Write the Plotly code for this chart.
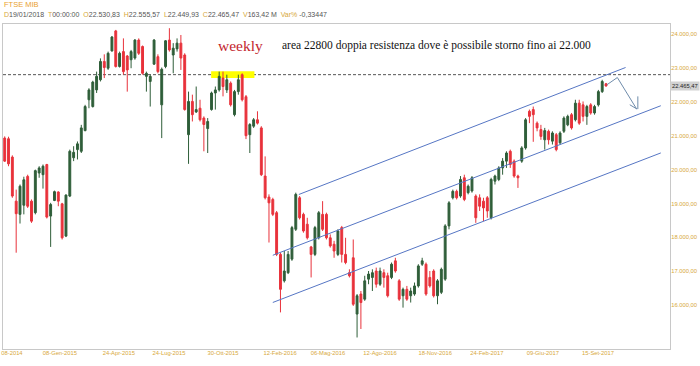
import plotly.graph_objects as go

# ---------------- data (weekly candles) ----------------
opens = [20930, 20910, 20370, 19070, 18680, 18950, 19800, 19070, 18730, 19900,
         19850, 20150, 18630, 19090, 19340, 18990, 18040, 19220, 20350, 20590,
         20540, 21150, 22060, 21860, 22350, 22650, 23190, 22990, 23500, 24090,
         23040, 23480, 23350, 23240, 23290, 23820, 23630, 22750, 22600, 23110,
         23330, 21910, 23040, 23820, 23380, 23560, 23730, 23380, 21030, 22010,
         21700, 21810, 21520, 21210, 21770, 22260, 22350, 22700, 22350, 22550,
         21620, 22300, 22800, 22150, 21030, 21280, 21470, 21230, 19810, 19190,
         19120, 18730, 17500, 16720, 16960, 17360, 18240, 19170, 18680, 18390,
         17720, 17500, 17990, 18680, 18680, 17990, 17800, 17500, 18290, 17500,
         16960, 17400, 15740, 16330, 16180, 16770, 16820, 17010, 16620, 16960,
         16870, 16820, 17310, 16720, 16280, 16470, 16280, 16330, 16570, 17210,
         17210, 16820, 17010, 16280, 16380, 16770, 18340, 19170, 19360, 19220,
         19760, 19320, 19370, 19220, 19170, 19070, 19170, 18580, 19660, 19710,
         20050, 20250, 20540, 20250, 19810, 20250, 20640, 21720, 21770, 21370,
         21180, 20880, 21130, 20840, 21030, 20790, 21130, 21320, 21620, 21470,
         21960, 21910, 21570, 21910, 21670, 21910, 22300, 22530.83]
highs = [20980, 20970, 20420, 19410, 19560, 19790, 19850, 19120, 20000, 20100,
         20150, 20170, 19020, 19380, 19360, 19020, 19270, 20590, 20690, 20830,
         21320, 21910, 22400, 22620, 22890, 23280, 23400, 23480, 23940, 24120,
         23480, 23870, 23380, 23530, 23850, 23870, 23660, 22890, 22800, 23850,
         23400, 23010, 23820, 24170, 23730, 23870, 23970, 23430, 22300, 22210,
         22450, 22060, 21570, 21520, 22300, 22450, 22890, 22890, 22800, 22600,
         22350, 22800, 22840, 22200, 21370, 21520, 21720, 21280, 20390, 19270,
         19170, 18780, 17550, 17600, 17600, 18340, 19320, 19220, 18730, 18580,
         17750, 18340, 18780, 19070, 18730, 18090, 17900, 18240, 18340, 17990,
         17060, 17940, 16330, 16420, 16870, 17010, 17060, 17110, 17110, 17060,
         16960, 17260, 17400, 16770, 16520, 16570, 16520, 16670, 17210, 17400,
         17260, 17010, 17060, 16770, 17110, 18390, 19070, 19410, 19410, 19810,
         19850, 19560, 19810, 19270, 19270, 19170, 19220, 19760, 19850, 20100,
         20340, 20540, 20590, 20300, 19850, 20690, 21520, 21770, 21860, 21420,
         21320, 21230, 21180, 21130, 21080, 21130, 21570, 21620, 21670, 22060,
         22060, 22010, 21910, 21960, 21910, 22350, 22650, 22555.57]
lows = [20230, 20100, 19170, 17550, 18410, 18680, 18870, 18430, 18680, 19760,
        19440, 18560, 17720, 19070, 18920, 17940, 18010, 19190, 20250, 20300,
        20490, 21130, 21810, 21830, 22260, 22600, 22700, 22940, 23480, 23010,
        23010, 22800, 22300, 22990, 23240, 23380, 22800, 22300, 21860, 23090,
        22840, 20930, 22990, 23480, 22840, 23480, 22940, 21740, 20170, 21420,
        21670, 21420, 20540, 20490, 21740, 21770, 22300, 22160, 22260, 21860,
        21570, 22210, 22010, 20900, 20490, 21230, 21330, 19810, 19120, 17850,
        18630, 17450, 15790, 16670, 16920, 17310, 18190, 18530, 18140, 17940,
        16820, 17450, 17940, 18190, 17940, 17700, 17400, 17450, 17260, 17210,
        16820, 15980, 15050, 15300, 16130, 16620, 16420, 16520, 16570, 16520,
        16230, 16770, 16960, 16130, 15930, 16130, 16080, 16280, 16520, 17160,
        16280, 16520, 16230, 16030, 16330, 16720, 18240, 19120, 19120, 19170,
        19070, 19270, 19320, 18430, 18780, 18480, 18580, 18530, 19560, 19660,
        19850, 20050, 20050, 19760, 19460, 20200, 20590, 21370, 20820, 21130,
        20880, 20590, 20740, 20740, 20540, 20740, 21080, 21280, 21180, 21420,
        21320, 21420, 21320, 21620, 21620, 21860, 22260, 22449.93]
closes = [20250, 20170, 19220, 18700, 19510, 19700, 18920, 18480, 19970, 20050,
          20100, 18600, 18970, 19350, 19070, 17990, 19250, 20540, 20510, 20760,
          21230, 21860, 22350, 22580, 22750, 23190, 23010, 23430, 23910, 23040,
          23430, 22890, 22940, 23480, 23820, 23430, 22840, 22840, 22750, 23820,
          22890, 22960, 23800, 23530, 23580, 23730, 23290, 21770, 22010, 21620,
          21770, 21470, 21330, 21420, 22260, 22350, 22750, 22450, 22650, 21910,
          22300, 22650, 22060, 21000, 21330, 21470, 21370, 19850, 19170, 19020,
          18680, 17500, 16470, 17010, 17500, 18290, 19270, 18580, 18190, 17990,
          17500, 18290, 18730, 18240, 17990, 17750, 17600, 18190, 17500, 17260,
          16870, 16030, 16280, 16080, 16720, 16920, 16960, 16620, 17010, 16820,
          16280, 17210, 17010, 16180, 16470, 16180, 16420, 16570, 17160, 17310,
          16330, 16570, 16280, 16720, 17060, 18340, 19020, 19360, 19170, 19710,
          19120, 19510, 19760, 18580, 18920, 18870, 18780, 19710, 19810, 20050,
          20250, 20490, 20150, 19810, 19760, 20640, 21470, 21570, 21620, 21230,
          20980, 21150, 20880, 21080, 20590, 21080, 21520, 21570, 21230, 21960,
          21370, 21570, 21860, 21670, 21860, 22300, 22600, 22465.47]

week_index = list(range(len(opens)))

date_labels = ["08-2014", "08-Gen-2015", "24-Apr-2015", "24-Lug-2015", "30-Ott-2015",
               "12-Feb-2016", "06-Mag-2016", "12-Ago-2016", "18-Nov-2016",
               "24-Feb-2017", "09-Giu-2017", "15-Set-2017"]
price_ticks = [16000, 17000, 18000, 19000, 20000, 21000, 22000, 23000, 24000]
price_labels = ["16.000,00", "17.000,00", "18.000,00", "19.000,00", "20.000,00",
                "21.000,00", "22.000,00", "23.000,00", "24.000,00"]
resistance_level = 22800
last_close_label = "22.465,47"

# ---------------- layout helpers ----------------
date_tick_pos = [1.9, 14.4, 29.8, 42.9, 57.0, 71.9, 84.4, 98.0, 112.4, 125.9, 140.5, 154.9]
W, H = 700, 366
ML, MR, MT, MB = 3, 30, 24, 17
PW, PH = W - ML - MR, H - MT - MB


def paper_x(px):
    return (px - ML) / PW


def paper_y(py):
    return (H - MB - py) / PH


GREEN = "#2f5e39"
RED = "#e8323b"
GOLD = "#d7a83a"
BLUE = "#5676c4"
ARROW = "#6f8cab"
AXIS_FONT = "Liberation Sans, Arial, sans-serif"
SERIF = "Liberation Serif, Times New Roman, serif"

fig = go.Figure(go.Candlestick(
    x=week_index, open=opens, high=highs, low=lows, close=closes,
    increasing=dict(line=dict(color=GREEN, width=1), fillcolor=GREEN),
    decreasing=dict(line=dict(color=RED, width=1), fillcolor=RED),
    whiskerwidth=0, showlegend=False, hoverinfo="skip",
))

shapes = [
    # yellow highlight of the double top
    dict(type="rect", xref="x", yref="y", x0=53.9, x1=65.2, y0=22700, y1=22900,
         fillcolor="#ffff00", line=dict(width=0), layer="below"),
    # dashed resistance line
    dict(type="line", xref="paper", yref="y", x0=0, x1=1,
         y0=resistance_level, y1=resistance_level,
         line=dict(color="#555555", width=1, dash="3px,2px"), layer="below"),
    # channel lines
    dict(type="line", xref="x", yref="y", x0=76.8, y0=19267, x1=162.1, y1=23011,
         line=dict(color=BLUE, width=1)),
    dict(type="line", xref="x", yref="y", x0=70.0, y0=17474, x1=171.3, y1=21884,
         line=dict(color=BLUE, width=1)),
    dict(type="line", xref="x", yref="y", x0=70.0, y0=16082, x1=171.3, y1=20492,
         line=dict(color=BLUE, width=1)),
    # hand-drawn arrow
    dict(type="line", xref="x", yref="y", x0=157.2, y0=22500, x1=159.95, y1=22715,
         line=dict(color=ARROW, width=1)),
    dict(type="line", xref="x", yref="y", x0=159.95, y0=22715, x1=165.0, y1=21786,
         line=dict(color=ARROW, width=1)),
    dict(type="line", xref="x", yref="y", x0=165.3, y0=22160, x1=165.3, y1=21786,
         line=dict(color=ARROW, width=1)),
    dict(type="line", xref="x", yref="y", x0=163.2, y0=21913, x1=165.1, y1=21786,
         line=dict(color=ARROW, width=1)),
]

lab = lambda s: f"<span style='color:{GOLD}'>{s}</span>"
val = lambda s: f"<span style='color:#555555'>{s}</span>"
header2 = (lab("D") + val("19/01/2018") + "  " + lab("T") + val("00:00:00") + "  " +
           lab("O") + val("22.530,83") + "  " + lab("H") + val("22.555,57") + "  " +
           lab("L") + val("22.449,93") + "  " + lab("C") + val("22.465,47") + "  " +
           lab("V") + val("163,42 M") + "  " + lab("Var%") + " " + val("-0,33447"))

annotations = [
    dict(xref="paper", yref="paper", x=paper_x(2), y=paper_y(5), xanchor="left",
         yanchor="middle", text="FTSE MIB", showarrow=False,
         font=dict(family=AXIS_FONT, size=7.5, color="#eaa22e")),
    dict(xref="paper", yref="paper", x=paper_x(2), y=paper_y(14), xanchor="left",
         yanchor="middle", text=header2, showarrow=False,
         font=dict(family=AXIS_FONT, size=7, color="#555555")),
    dict(xref="paper", yref="paper", x=paper_x(240), y=paper_y(45), xanchor="center",
         yanchor="middle", text="weekly", showarrow=False,
         font=dict(family=SERIF, size=15.5, color="#c3262e")),
    dict(xref="paper", yref="paper", x=paper_x(280), y=paper_y(45), xanchor="left",
         yanchor="middle",
         text="area 22800 doppia resistenza dove è possibile storno fino ai 22.000",
         showarrow=False, font=dict(family=SERIF, size=11.5, color="#111111")),
    dict(xref="paper", yref="y", x=1, y=closes[-1], xanchor="left", yanchor="middle",
         xshift=0, text=last_close_label, showarrow=False, bgcolor="#d2d2d2",
         borderpad=1, font=dict(family=AXIS_FONT, size=5.8, color="#222222")),
]

fig.update_layout(
    width=W, height=H,
    margin=dict(l=ML, r=MR, t=MT, b=MB, autoexpand=False),
    paper_bgcolor="white", plot_bgcolor="white",
    showlegend=False,
    shapes=shapes, annotations=annotations,
    xaxis=dict(range=[-0.44, 173.7], showgrid=False, zeroline=False, automargin=False,
               showline=True, linecolor="#c8c8c8", linewidth=1, mirror=True,
               tickmode="array", tickvals=date_tick_pos, ticktext=date_labels,
               ticks="", ticklabelstandoff=-2,
               tickfont=dict(family=AXIS_FONT, size=5.8, color=GOLD),
               rangeslider=dict(visible=False), fixedrange=True),
    yaxis=dict(range=[14710, 24294], side="right", showgrid=False, zeroline=False,
               automargin=False,
               showline=True, linecolor="#c8c8c8", linewidth=1, mirror=True,
               tickmode="array", tickvals=price_ticks, ticktext=price_labels,
               ticks="", ticklabelstandoff=-1,
               tickfont=dict(family=AXIS_FONT, size=5.8, color=GOLD),
               fixedrange=True),
)

fig.write_html("out.html", config={"displayModeBar": False},
               post_script="document.body.style.margin='0px';")
